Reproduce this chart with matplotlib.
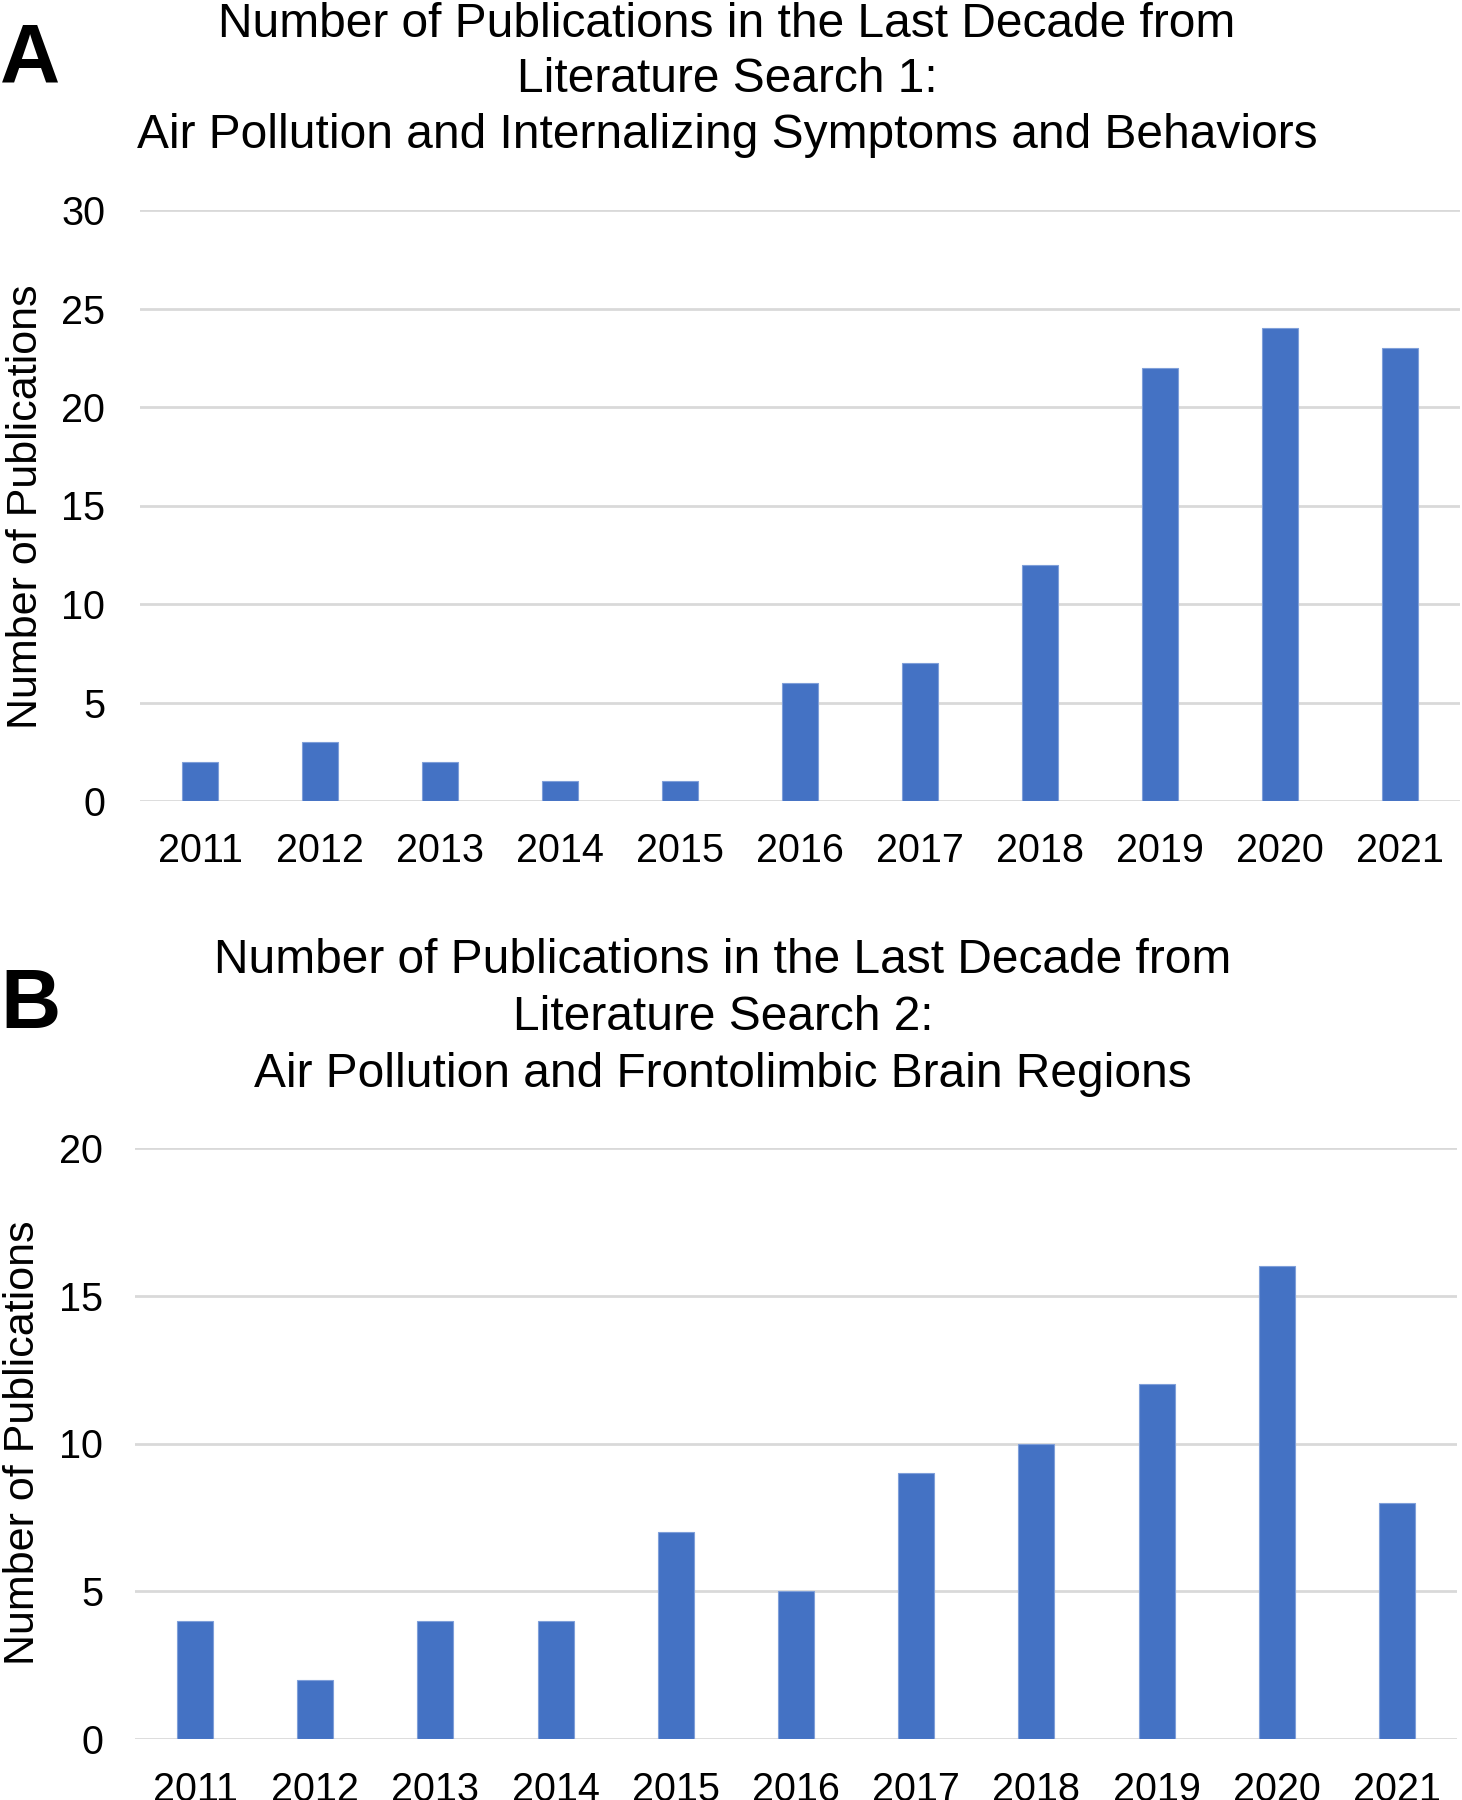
import matplotlib
matplotlib.use("Agg")
import matplotlib.pyplot as plt

plt.rcParams['font.family'] = ['Liberation Sans', 'DejaVu Sans']

# ---- data ----
years = ["2011", "2012", "2013", "2014", "2015", "2016", "2017", "2018", "2019", "2020", "2021"]
pubs_search1 = [2, 3, 2, 1, 1, 6, 7, 12, 22, 24, 23]
pubs_search2 = [4, 2, 4, 4, 7, 5, 9, 10, 12, 16, 8]
title_a = ["Number of Publications in the Last Decade from",
           "Literature Search 1:",
           "Air Pollution and Internalizing Symptoms and Behaviors"]
title_b = ["Number of Publications in the Last Decade from",
           "Literature Search 2:",
           "Air Pollution and Frontolimbic Brain Regions"]
ylabel = "Number of Publications"
yticks_a = [0, 5, 10, 15, 20, 25, 30]
yticks_b = [0, 5, 10, 15, 20]

W, H = 1462, 1800
fig = plt.figure(figsize=(W / 100, H / 100), dpi=100)

BAR = "#4472C4"
GRID = "#d9d9d9"


def fx(px):
    return px / W


def fy(py):
    return 1 - py / H


def panel(rect, values, yticks, xpad, ypad):
    ax = fig.add_axes(rect)
    x = list(range(len(years)))
    ax.bar(x, values, width=0.3, color=BAR, edgecolor="#7f9fd9", linewidth=0.8, zorder=3)
    ax.set_xlim(-0.5, len(years) - 0.5)
    ax.set_ylim(yticks[0], yticks[-1])
    ax.set_yticks(yticks)
    ax.set_xticks(x)
    ax.set_xticklabels(years)
    ax.yaxis.grid(True, color=GRID, linewidth=2.0, zorder=0)
    ax.set_axisbelow(True)
    for s in ax.spines.values():
        s.set_visible(False)
    ax.tick_params(axis="both", length=0, labelsize=28.5, colors="black")
    ax.tick_params(axis="x", pad=xpad)
    ax.tick_params(axis="y", pad=ypad)
    for lbl in ax.get_yticklabels() + ax.get_xticklabels():
        lbl.set_clip_on(False)
    return ax


# Panel A: axes from x=140..1460 px, y=210..801 px
axA = panel([fx(140), fy(801), fx(1460) - fx(140), fy(210) - fy(801)],
            pubs_search1, yticks_a, xpad=22, ypad=25)
# Panel B: axes from x=135..1457 px, y=1148..1739 px
axB = panel([fx(135), fy(1739), fx(1457) - fx(135), fy(1148) - fy(1739)],
            pubs_search2, yticks_b, xpad=23, ypad=23)

# Titles (each line placed at its baseline)
for line, base in zip(title_a, [37, 92, 148]):
    fig.text(fx(727), fy(base), line, ha="center", va="baseline", fontsize=34.5)
for line, base in zip(title_b, [973, 1030, 1087]):
    fig.text(fx(723), fy(base), line, ha="center", va="baseline", fontsize=34.5)

# Y-axis labels
fig.text(fx(26), fy(507), ylabel, rotation=90, ha="center", va="center", fontsize=31)
fig.text(fx(23), fy(1443), ylabel, rotation=90, ha="center", va="center", fontsize=31)

# Panel letters
fig.text(fx(0), fy(83), "A", ha="left", va="baseline", fontsize=60, fontweight="bold")
fig.text(fx(0), fy(1028), "B", ha="left", va="baseline", fontsize=60, fontweight="bold")

fig.savefig("out.png", dpi=100, facecolor="white")
